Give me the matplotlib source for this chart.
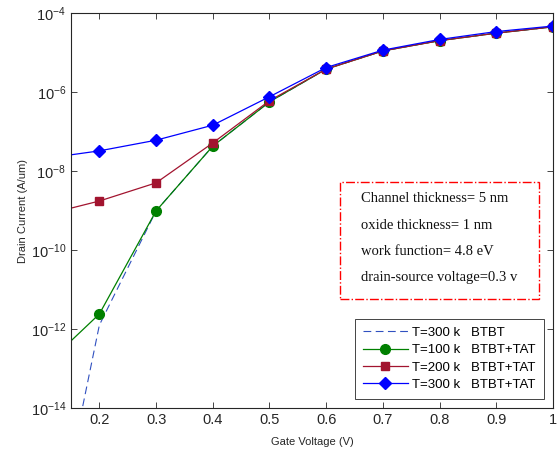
import numpy as np
import matplotlib.pyplot as plt

# gate voltage points (0.1 point lies outside the axis, only the line reaches the edge)
vg = [0.1, 0.2, 0.3, 0.4, 0.5, 0.6, 0.7, 0.8, 0.9, 1.0]

# log10 of drain current (A/um)
btbt_300 = [-18.9, -11.9, -9.01, -7.37, -6.25, -5.42, -4.96, -4.70, -4.51, -4.35]
tat_100 = [-12.98, -11.62, -9.01, -7.37, -6.25, -5.42, -4.96, -4.70, -4.51, -4.35]
tat_200 = [-9.12, -8.76, -8.30, -7.29, -6.22, -5.42, -4.96, -4.70, -4.51, -4.35]
tat_300 = [-7.69, -7.49, -7.22, -6.84, -6.12, -5.38, -4.94, -4.67, -4.47, -4.33]

info_lines = ["Channel thickness= 5 nm", "oxide thickness= 1 nm",
              "work function= 4.8 eV", "drain-source voltage=0.3 v"]

plt.rcParams['font.family'] = ['Liberation Sans', 'DejaVu Sans']
plt.rcParams['mathtext.default'] = 'regular'

fig = plt.figure(figsize=(5.57, 4.53), dpi=100)
ax = fig.add_axes([0.1275, 0.0993, 0.8653, 0.872])

mk = list(range(1, len(vg)))
ax.plot(vg, 10.0 ** np.array(btbt_300), '--', color='#3050c0', lw=0.8,
        dashes=(7, 4), label='T=300 k   BTBT')
ax.plot(vg, 10.0 ** np.array(tat_100), '-', color='#008000', lw=0.9, marker='o',
        ms=7, markevery=mk, label='T=100 k   BTBT+TAT')
ax.plot(vg, 10.0 ** np.array(tat_200), '-', color='#a2142f', lw=0.9, marker='s',
        ms=6, markevery=mk, label='T=200 k   BTBT+TAT')
ax.plot(vg, 10.0 ** np.array(tat_300), '-', color='#0000ff', lw=0.9, marker='D',
        ms=6, markevery=mk, label='T=300 k   BTBT+TAT')

ax.set_yscale('log')
ax.set_xlim(0.15, 1.0)
ax.set_ylim(1e-14, 1e-4)
ax.set_xticks([0.2, 0.3, 0.4, 0.5, 0.6, 0.7, 0.8, 0.9, 1.0])
ax.set_xticklabels(['0.2', '0.3', '0.4', '0.5', '0.6', '0.7', '0.8', '0.9', '1'])
ax.set_yticks([1e-14, 1e-12, 1e-10, 1e-8, 1e-6, 1e-4])
ax.set_yticklabels([r'$10^{-14}$', r'$10^{-12}$', r'$10^{-10}$', r'$10^{-8}$',
                    r'$10^{-6}$', r'$10^{-4}$'])
ax.minorticks_off()
ax.tick_params(direction='in', top=True, right=True, labelsize=10.5,
               colors='#262626', length=4, width=0.6)
for s in ax.spines.values():
    s.set_color('#262626')
    s.set_linewidth(0.8)

ax.set_xlabel('Gate Voltage (V)', fontsize=8, color='#262626', labelpad=7)
ax.set_ylabel('Drain Current (A/um)', fontsize=8, color='#262626', labelpad=2)

leg = ax.legend(loc='lower right', fontsize=9.5, handlelength=3.4, fancybox=False,
                edgecolor='#262626', framealpha=1, borderpad=0.6, labelspacing=0.38,
                handletextpad=0.35, borderaxespad=0.7)
leg.get_frame().set_linewidth(0.6)

ax.text(0.602, 0.546, '\n'.join(info_lines), transform=ax.transAxes,
        fontsize=10.5, family=['Liberation Serif', 'DejaVu Serif'], linespacing=2.33,
        va='top', ha='left', color='#111111')
box = plt.Rectangle((0.558, 0.276), 0.413, 0.296, transform=ax.transAxes,
                    fill=False, edgecolor='#ff0000', lw=1.0, linestyle='-.')
ax.add_patch(box)

fig.savefig('out.png', dpi=100)
